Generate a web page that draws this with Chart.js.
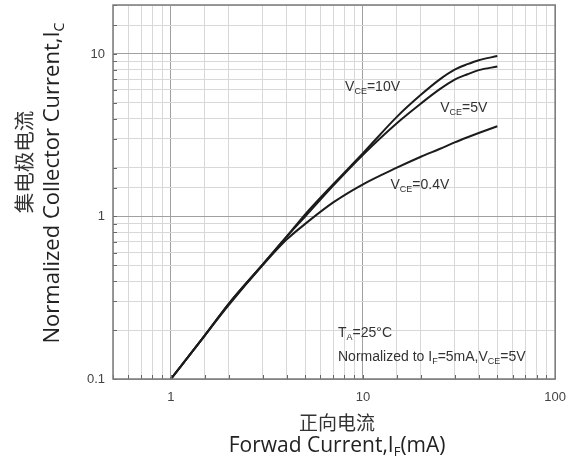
<!DOCTYPE html>
<html>
<head>
<meta charset="utf-8">
<script src="https://cdn.jsdelivr.net/npm/chart.js@4/dist/chart.umd.min.js"></script>
<style>
  html, body { margin: 0; padding: 0; background: #fff; }
  canvas { display: block; }
</style>
</head>
<body>
<canvas id="ctrChart" width="577" height="465"></canvas>
<script>
// Forward current IF (mA) where the curves were sampled
const forwardCurrent = [1, 1.5, 2, 3, 4, 5, 7, 10, 15, 20, 25, 30, 35, 40, 50];

// Normalized collector current, one list per VCE
const ic10V = [0.1, 0.185, 0.29, 0.505, 0.75, 1.03, 1.58, 2.45, 4.1, 5.6, 6.95, 8.0, 8.65, 9.15, 9.7];
const ic5V  = [0.1, 0.185, 0.29, 0.505, 0.75, 1.0, 1.55, 2.4, 3.75, 4.95, 6.05, 6.95, 7.5, 7.95, 8.36];
const ic04V = [0.1, 0.185, 0.285, 0.5, 0.72, 0.9, 1.22, 1.577, 1.995, 2.33, 2.6, 2.855, 3.07, 3.26, 3.59];

// Labelled decades on each axis
const xTickLabels = [1, 10, 100];
const yTickLabels = [0.1, 1, 10];

// Text runs: [text, 'sub'] marks a subscript
const curveNotes = [
  { runs: [['V'], ['CE', 'sub'], ['=10V']], at: [8.07, 6.25] },
  { runs: [['V'], ['CE', 'sub'], ['=5V']], at: [25.2, 4.65] },
  { runs: [['V'], ['CE', 'sub'], ['=0.4V']], at: [13.9, 1.56] },
  { runs: [['T'], ['A', 'sub'], ['=25°C']], at: [7.41, 0.192] },
  { runs: [['Normalized to I'], ['F', 'sub'], ['=5mA,V'], ['CE', 'sub'], ['=5V']], at: [7.41, 0.136] }
];

const xTitleCn = '正向电流';
const xTitleEn = [['Forwad Current,I'], ['F', 'sub'], ['(mA)']];
const yTitleCn = '集电极电流';
const yTitleEn = [['Normalized Collector Current,I'], ['C', 'sub']];

const toPoints = ys => forwardCurrent.map((x, i) => ({ x: x, y: ys[i] }));
const clean = v => Number(Number(v).toPrecision(3));
const isDecade = v => {
  const lg = Math.log10(v);
  return Math.abs(lg - Math.round(lg)) < 1e-6;
};

// one line of text with subscript runs
function drawRuns(ctx, runs, px, py, size, family, color, align) {
  const subSize = Math.round(size * 0.64);
  const fontFor = r => (r[1] === 'sub' ? subSize : size) + 'px ' + family;
  let w = 0;
  runs.forEach(r => { ctx.font = fontFor(r); w += ctx.measureText(r[0]).width; });
  let cx = align === 'center' ? px - w / 2 : px;
  ctx.fillStyle = color;
  ctx.textBaseline = 'middle';
  ctx.textAlign = 'left';
  runs.forEach(r => {
    ctx.font = fontFor(r);
    const dy = r[1] === 'sub' ? size * 0.32 : 0;
    ctx.fillText(r[0], cx, py + dy);
    cx += ctx.measureText(r[0]).width;
  });
}

const frameAndText = {
  id: 'frameAndText',
  afterDraw(chart) {
    const { ctx, chartArea: a, scales: { x, y } } = chart;
    ctx.save();

    // inward tick marks on the left and bottom edges
    ctx.strokeStyle = '#666';
    ctx.lineWidth = 1;
    y.ticks.forEach(t => {
      const py = Math.round(y.getPixelForValue(t.value)) + 0.5;
      ctx.beginPath();
      ctx.moveTo(a.left, py);
      ctx.lineTo(a.left + 4, py);
      ctx.stroke();
    });
    x.ticks.forEach(t => {
      const px = Math.round(x.getPixelForValue(t.value)) + 0.5;
      ctx.beginPath();
      ctx.moveTo(px, a.bottom);
      ctx.lineTo(px, a.bottom - 4);
      ctx.stroke();
    });

    // plot frame
    ctx.strokeStyle = '#7a7a7a';
    ctx.lineWidth = 1.5;
    ctx.strokeRect(a.left, a.top, a.right - a.left, a.bottom - a.top);

    // curve labels and test conditions
    curveNotes.forEach(n => {
      drawRuns(ctx, n.runs, x.getPixelForValue(n.at[0]), y.getPixelForValue(n.at[1]),
        14, '"Liberation Sans", Arial, sans-serif', '#333', 'left');
    });

    // x axis title, two lines
    const midX = (a.left + a.right) / 2 + 3;
    ctx.font = '19px "Noto Sans CJK SC", sans-serif';
    ctx.fillStyle = '#333';
    ctx.textAlign = 'center';
    ctx.textBaseline = 'middle';
    ctx.fillText(xTitleCn, midX, a.bottom + 44);
    drawRuns(ctx, xTitleEn, midX, a.bottom + 67, 21, '"Open Sans", sans-serif', '#222', 'center');

    // y axis title, two rotated lines
    const midY = (a.top + a.bottom) / 2;
    ctx.save();
    ctx.translate(24, midY - 30);
    ctx.rotate(-Math.PI / 2);
    ctx.font = '20.5px "Noto Sans CJK SC", sans-serif';
    ctx.fillStyle = '#333';
    ctx.textAlign = 'center';
    ctx.textBaseline = 'middle';
    ctx.fillText(yTitleCn, 0, 0);
    ctx.restore();

    ctx.save();
    ctx.translate(53, midY - 9);
    ctx.rotate(-Math.PI / 2);
    drawRuns(ctx, yTitleEn, 0, 0, 22, '"Open Sans", sans-serif', '#222', 'center');
    ctx.restore();

    ctx.restore();
  }
};

const curve = (label, ys) => ({
  label: label,
  data: toPoints(ys),
  showLine: true,
  borderColor: '#1c1c1c',
  borderWidth: 2,
  pointRadius: 0,
  fill: false,
  cubicInterpolationMode: 'monotone'
});

const gridColor = c => (isDecade(c.tick.value) ? '#a0a0a0' : '#d8d8d8');
const tickFont = { family: '"Liberation Sans", Arial, sans-serif', size: 13 };

new Chart(document.getElementById('ctrChart'), {
  type: 'scatter',
  data: {
    datasets: [
      curve('VCE=10V', ic10V),
      curve('VCE=5V', ic5V),
      curve('VCE=0.4V', ic04V)
    ]
  },
  options: {
    responsive: false,
    animation: false,
    layout: { padding: { left: 0, right: 18, top: 5, bottom: 0 } },
    plugins: {
      legend: { display: false },
      tooltip: { enabled: false }
    },
    scales: {
      x: {
        type: 'logarithmic',
        min: 0.5,
        max: 100,
        border: { display: false },
        grid: { color: gridColor, lineWidth: 1, drawTicks: false },
        ticks: {
          autoSkip: false,
          maxRotation: 0,
          padding: 11,
          color: '#444',
          font: tickFont,
          callback: v => (xTickLabels.includes(clean(v)) ? String(clean(v)) : '')
        },
        afterFit: s => { s.height = 86; }
      },
      y: {
        type: 'logarithmic',
        min: 0.1,
        max: 20,
        border: { display: false },
        grid: { color: gridColor, lineWidth: 1, drawTicks: false },
        ticks: {
          autoSkip: false,
          padding: 8,
          color: '#444',
          font: tickFont,
          callback: v => (yTickLabels.includes(clean(v)) ? String(clean(v)) : '')
        },
        afterFit: s => { s.width = 113; s.paddingTop = 0; }
      }
    }
  },
  plugins: [frameAndText]
});
</script>
</body>
</html>
